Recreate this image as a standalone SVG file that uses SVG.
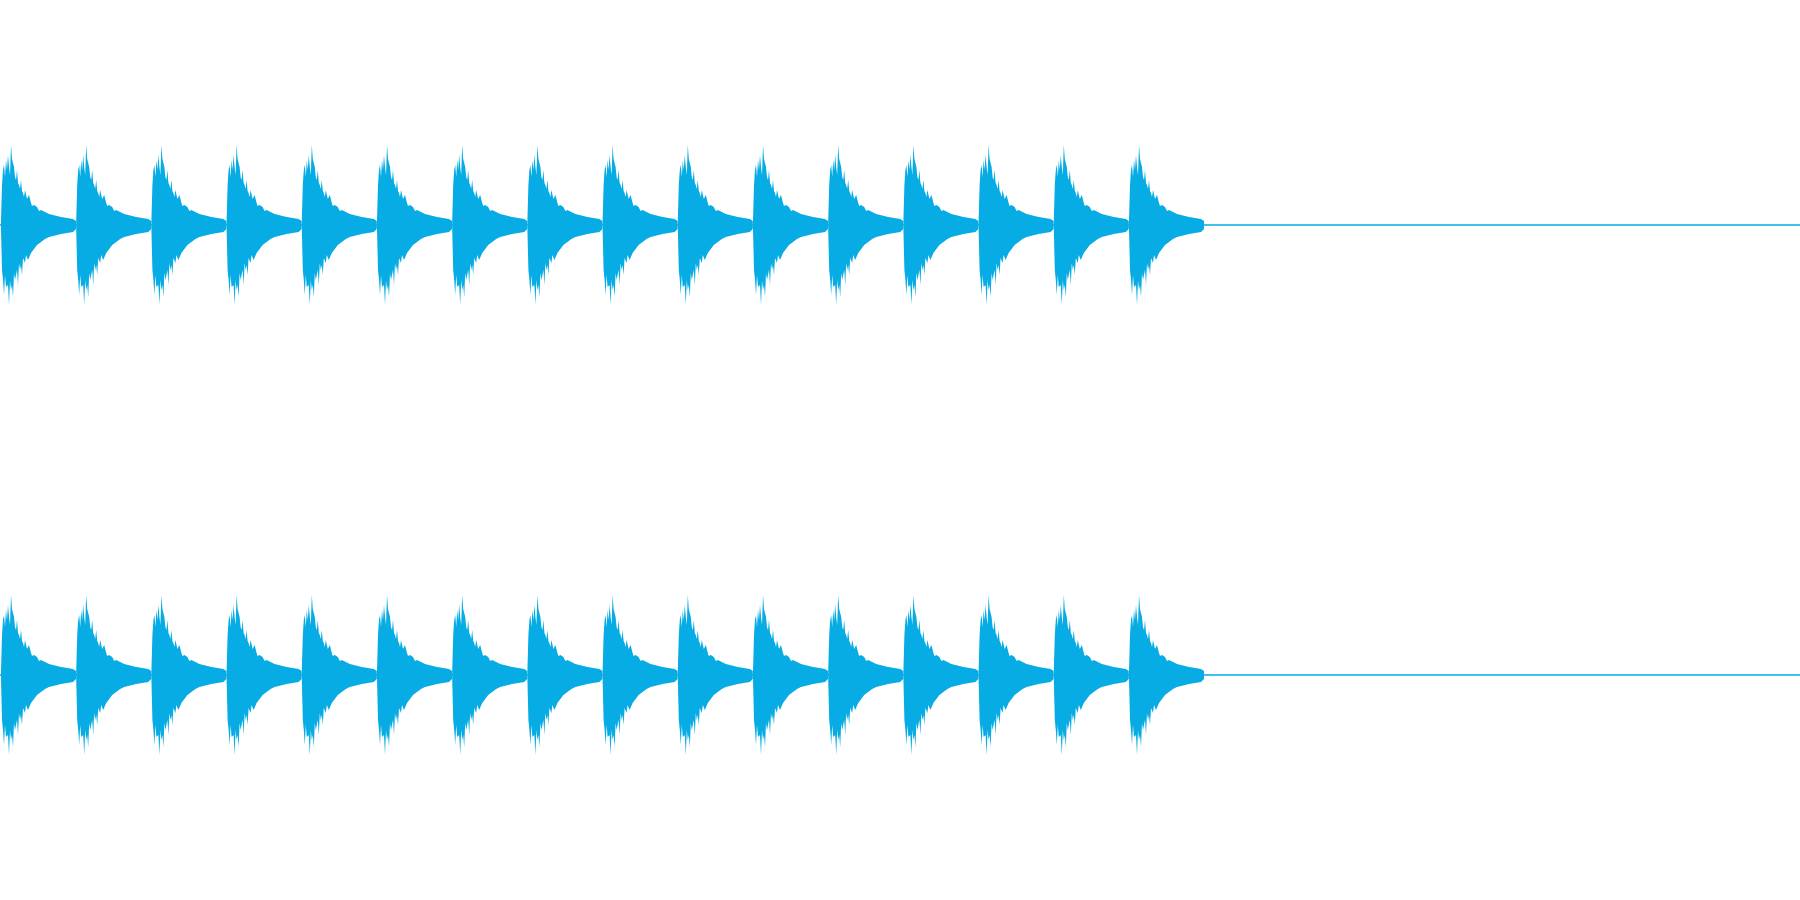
<svg xmlns="http://www.w3.org/2000/svg" xmlns:xlink="http://www.w3.org/1999/xlink" width="1800" height="900" viewBox="0 0 1800 900">
<style>.w{fill:#06ace3}.b{stroke:#06ace3;stroke-width:1.3}</style>
<defs>
<path id="burst" class="w" d="M0,-4 L1,-40 L2,-55 L3,-60 L4,-48 L5,-65 L6,-55 L7,-70 L8,-58 L9,-50 L10,-80 L11,-66 L12,-62 L13,-58 L14,-48 L15,-45 L16,-55 L17,-42 L18,-40 L19,-36 L20,-45 L21,-34 L22,-32 L23,-28 L24,-35 L26,-26 L28,-30 L30,-22 L31,-19 L33,-20 L36,-18 L38,-14 L40,-15 L44,-13 L48,-11 L52,-10 L56,-9 L60,-8 L66,-7 L72,-6 L75,-4 L75,4 L72,7 L66,8 L60,9 L56,10 L52,11 L48,12 L44,14 L40,17 L36,20 L33,24 L30,28 L27,35 L25,30 L24,38 L22,33 L21,50 L20,40 L19,45 L18,38 L17,60 L16,45 L14,55 L13,48 L12,72 L11,60 L10,65 L9,55 L8,80 L7,60 L5,62 L4,50 L3,70 L2,55 L1,45 L0,4 Z"/>
</defs>
<g id="channel1">
<line class="b" x1="0" y1="225" x2="1800" y2="225"/>
<g transform="translate(1,225)">
<use xlink:href="#burst" x="0"/><use xlink:href="#burst" x="75.2"/><use xlink:href="#burst" x="150.4"/><use xlink:href="#burst" x="225.6"/>
<use xlink:href="#burst" x="300.8"/><use xlink:href="#burst" x="376"/><use xlink:href="#burst" x="451.2"/><use xlink:href="#burst" x="526.4"/>
<use xlink:href="#burst" x="601.6"/><use xlink:href="#burst" x="676.8"/><use xlink:href="#burst" x="752"/><use xlink:href="#burst" x="827.2"/>
<use xlink:href="#burst" x="902.4"/><use xlink:href="#burst" x="977.6"/><use xlink:href="#burst" x="1052.8"/><use xlink:href="#burst" x="1128"/>
</g>
</g>
<g id="channel2">
<line class="b" x1="0" y1="675" x2="1800" y2="675"/>
<g transform="translate(1,675)">
<use xlink:href="#burst" x="0"/><use xlink:href="#burst" x="75.2"/><use xlink:href="#burst" x="150.4"/><use xlink:href="#burst" x="225.6"/>
<use xlink:href="#burst" x="300.8"/><use xlink:href="#burst" x="376"/><use xlink:href="#burst" x="451.2"/><use xlink:href="#burst" x="526.4"/>
<use xlink:href="#burst" x="601.6"/><use xlink:href="#burst" x="676.8"/><use xlink:href="#burst" x="752"/><use xlink:href="#burst" x="827.2"/>
<use xlink:href="#burst" x="902.4"/><use xlink:href="#burst" x="977.6"/><use xlink:href="#burst" x="1052.8"/><use xlink:href="#burst" x="1128"/>
</g>
</g>
</svg>
